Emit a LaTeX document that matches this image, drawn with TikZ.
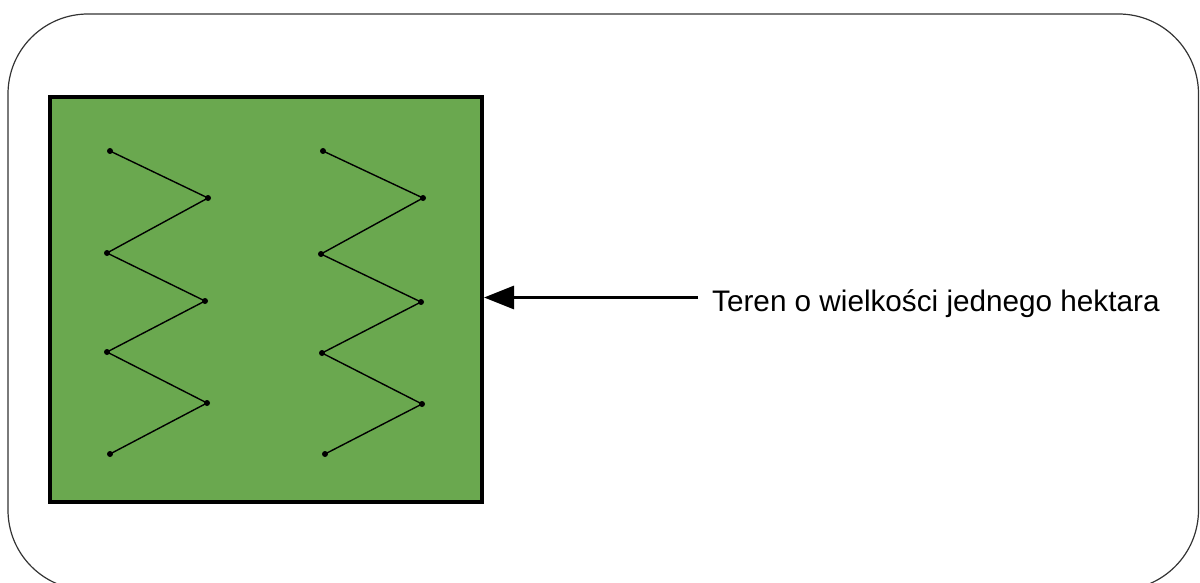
\documentclass[tikz,border=0pt]{standalone}
\usepackage{fontspec}
\setmainfont{Liberation Sans}
\usetikzlibrary{arrows.meta}
\definecolor{fieldgreen}{HTML}{6AA84F}
\tikzset{
  pt/.style={circle, fill=black, inner sep=0pt, minimum size=6pt},
  zig/.style={line width=1.4pt, black},
  fieldbox/.style={draw=black, line width=4pt, fill=fieldgreen, minimum width=432pt, minimum height=405pt, inner sep=0pt},
  frame/.style={draw=black!80, line width=1.2pt, rounded corners=80pt},
  pointer/.style={line width=3pt, -{Triangle[length=30pt, width=23pt]}},
  label/.style={font=\fontsize{29.7}{35}\selectfont, inner sep=0pt, anchor=base west}
}
\begin{document}
\begin{tikzpicture}[x=1pt, y=-1pt]
\useasboundingbox (0,0) rectangle (1200,583);
\draw[frame] (8,14) rectangle (1198.5,590);
\node[fieldbox] (field) at (266,299.5) {};
% left zigzag
\node[pt] (a1) at (110,151) {};
\node[pt] (a2) at (208,198) {};
\node[pt] (a3) at (107,253) {};
\node[pt] (a4) at (205,301) {};
\node[pt] (a5) at (107,352) {};
\node[pt] (a6) at (207,403) {};
\node[pt] (a7) at (110,454) {};
\draw[zig] (a1.center) -- (a2.center) -- (a3.center) -- (a4.center) -- (a5.center) -- (a6.center) -- (a7.center);
% right zigzag
\node[pt] (b1) at (323,151) {};
\node[pt] (b2) at (423,198) {};
\node[pt] (b3) at (321,254) {};
\node[pt] (b4) at (421,302) {};
\node[pt] (b5) at (322,353) {};
\node[pt] (b6) at (422,404) {};
\node[pt] (b7) at (325,454) {};
\draw[zig] (b1.center) -- (b2.center) -- (b3.center) -- (b4.center) -- (b5.center) -- (b6.center) -- (b7.center);
% label and pointer
\node[label] (txt) at (712,311) {Teren o wielkości jednego hektara};
\coordinate (tail) at (698,297.5);
\draw[pointer] (tail) -- (field.east |- tail);
\end{tikzpicture}
\end{document}
